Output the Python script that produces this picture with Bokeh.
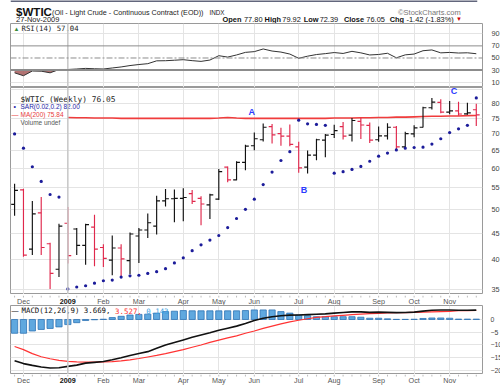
import math
import numpy as np
from bokeh.plotting import figure
from bokeh.layouts import column
from bokeh.models import (Range1d, FixedTicker, Span, Grid,
                          NumeralTickFormatter, ColumnDataSource)
from bokeh.embed import file_html
from bokeh.resources import INLINE
from bokeh.core.properties import value

# ---------------- data (weekly, week of 24-Nov-2008 ... week of 23-Nov-2009) -------------
opens = [51.1, 54.5, 41.9, 49.2, 42.9, 38.3, 47.0, 45.8, 42.6, 46.2,
         42.2, 39.9, 42.1, 39.8, 44.4, 45.6, 46.4, 51.9, 52.4, 52.5,
         53.6, 52.5, 51.0, 52.3, 60.3, 57.0, 61.6, 66.3, 68.1, 72.2,
         70.0, 69.2, 66.0, 60.3, 63.6, 68.0, 69.7, 72.2, 69.5, 73.9,
         72.6, 68.1, 69.3, 72.0, 66.0, 69.9, 72.0, 78.5, 80.4, 77.0,
         77.4, 76.4, 77.8]
highs = [56.0, 54.8, 51.9, 52.8, 43.1, 46.9, 50.5, 46.0, 46.9, 48.8,
         42.8, 44.5, 42.8, 45.1, 46.0, 49.1, 53.1, 54.7, 54.6, 54.9,
         54.5, 53.0, 53.6, 59.8, 60.5, 61.9, 66.6, 70.3, 73.2, 73.0,
         71.8, 72.9, 67.5, 64.9, 68.4, 69.9, 72.8, 73.7, 75.0, 75.0,
         73.5, 72.2, 73.3, 72.4, 70.6, 72.6, 78.9, 82.0, 81.5, 80.9,
         80.6, 80.3, 79.92]
lows = [48.6, 40.5, 40.8, 40.8, 35.1, 37.0, 39.3, 40.8, 39.1, 38.8,
        38.7, 37.3, 37.0, 37.5, 39.4, 44.0, 44.7, 50.6, 47.2, 47.4,
        51.2, 46.6, 47.9, 52.1, 56.4, 56.9, 59.5, 65.0, 67.6, 67.0,
        66.3, 66.2, 58.8, 58.6, 62.2, 63.0, 68.6, 68.2, 67.6, 68.3,
        67.1, 67.5, 68.2, 65.3, 65.6, 68.9, 71.9, 77.9, 76.6, 76.3,
        75.8, 76.1, 72.39]
closes = [54.4, 40.8, 49.0, 42.2, 37.6, 46.4, 40.7, 42.6, 46.7, 41.9,
          40.2, 42.1, 40.1, 44.8, 45.6, 47.1, 51.9, 52.4, 52.5, 52.7,
          51.8, 51.2, 53.3, 59.1, 57.0, 61.6, 66.2, 68.4, 72.0, 69.6,
          69.2, 66.7, 60.1, 63.6, 68.1, 69.5, 70.9, 69.2, 74.2, 72.7,
          68.0, 69.3, 72.0, 66.0, 70.0, 71.8, 78.5, 80.5, 77.0, 77.4,
          76.35, 76.72, 76.05]
sar = [69.9, 65.6, 60.4, 56.6, 53.4, 52.8, 35.1, 35.4, 35.6, 36.0,
       36.4, 36.5, 37.0, 37.2, 37.3, 37.6, 37.9, 38.4, 39.4, 40.3,
       41.6, 42.7, 43.6, 44.5, 46.1, 48.0, 50.0, 52.3, 55.8, 59.0,
       62.1, 64.6, 74.3, 73.1, 72.9, 72.6, 58.7, 59.1, 59.7, 60.5,
       61.9, 63.3, 64.2, 65.1, 65.6, 65.8, 65.9, 66.8, 68.4, 70.3,
       71.5, 72.6, 82.0]
ma_first_week = 6
ma200 = [75.2, 75.1, 75.1, 75.0, 75.0, 75.0, 74.9, 74.9, 74.9, 74.9,
         74.9, 74.9, 74.9, 74.9, 74.9, 74.9, 74.9, 75.0, 75.2, 75.0,
         74.9, 74.9, 74.9, 74.9, 74.9, 74.9, 74.9, 74.9, 74.9, 74.9,
         75.0, 75.0, 75.0, 75.1, 75.1, 75.2, 75.2, 75.3, 75.3, 75.4,
         75.5, 75.6, 75.6, 75.7, 75.7, 75.8, 75.84]
rsi = [25.5, 20.7, 28.5, 28.2, 25.5, 31.0, 31.0, 31.8, 32.8, 32.2,
       31.8, 33.5, 35.2, 37.5, 39.2, 40.6, 45.3, 45.5, 46.3, 47.2,
       45.6, 44.4, 46.6, 53.8, 51.5, 55.0, 59.3, 60.5, 64.9, 61.5,
       59.8, 56.5, 49.5, 53.0, 55.7, 57.2, 59.0, 57.5, 61.0, 58.5,
       55.0, 55.8, 57.8, 50.3, 55.2, 56.5, 62.0, 63.3, 58.5, 59.2,
       58.2, 58.6, 57.04]
macd = [-16.2, -17.3, -18.0, -18.6, -19.0, -18.9, -18.4, -17.9, -17.1, -16.8,
        -16.5, -15.8, -15.0, -14.1, -13.3, -12.6, -11.3, -10.0, -9.0, -8.0,
        -7.0, -6.1, -5.2, -4.2, -3.4, -2.6, -1.6, -0.4, 0.5, 1.1,
        1.5, 1.7, 1.75, 1.9, 2.05, 2.2, 2.5, 2.75, 3.0, 3.0,
        2.8, 2.9, 2.8, 2.7, 2.75, 2.9, 3.3, 3.6, 3.7, 3.7,
        3.6, 3.65, 3.669]
signal = [-10.6, -11.8, -13.4, -14.6, -15.4, -16.0, -16.4, -16.6, -16.7, -16.7,
          -16.6, -16.5, -16.2, -15.8, -15.3, -14.7, -14.1, -13.4, -12.6, -11.8,
          -10.9, -10.0, -9.0, -8.1, -7.2, -6.4, -5.4, -4.5, -3.5, -2.6,
          -1.7, -0.9, -0.3, 0.3, 0.85, 1.1, 1.4, 1.65, 1.9, 2.1,
          2.3, 2.4, 2.55, 2.65, 2.7, 2.8, 2.9, 3.0, 3.1, 3.2,
          3.45, 3.5, 3.527]
hist = [-5.4, -5.4, -4.5, -3.9, -3.5, -2.9, -2.0, -1.25, -0.4, -0.1,
        0.1, 0.75, 1.25, 1.75, 2.0, 2.1, 2.5, 3.1, 3.25, 3.5,
        3.4, 3.4, 3.4, 3.4, 3.4, 3.4, 3.5, 3.75, 3.75, 3.75,
        3.1, 2.5, 1.75, 1.5, 1.1, 1.1, 1.1, 1.1, 1.1, 0.9,
        0.5, 0.5, 0.25, 0.05, 0.05, 0.1, 0.4, 0.6, 0.6, 0.5,
        0.15, 0.15, 0.143]
month_idx = [1, 6, 10, 14, 19, 23, 27, 32, 36, 41, 45, 49]
month_labels = ["Dec", "2009", "Feb", "Mar", "Apr", "May", "Jun", "Jul",
                "Aug", "Sep", "Oct", "Nov"]
price_ticks = [35, 40, 45, 50, 55, 60, 65, 70, 75, 80, 85]
price_labels = ["35", "40", "45", "50", "55", "60", "65", "70", "75", "80", ""]
rsi_ticks = [10, 30, 50, 70, 90]
macd_ticks = [-20, -15, -10, -5, 0]

# ---------------- styling ----------------
FONT = "Liberation Sans"
MONO = "DejaVu Sans Mono"
W = 500
FW = 472
LEFT = 10
RIGHT = W - LEFT - FW
GRID = "#e4e4e4"
OUTLINE = "#9a9a9a"
BLACK = "#111111"
RED = "#e0284c"

n = len(closes)
idx = np.arange(n)
bar_colors = [BLACK] + [RED if closes[i] < closes[i - 1] else BLACK for i in range(1, n)]
xr = Range1d(-0.46, 52.7)


def fx(px):
    """frame pixel offset from the left edge -> x data value"""
    return xr.start + px * (xr.end - xr.start) / FW


def fy(rng, h, py, log=False):
    """frame pixel offset from the top edge -> y data value"""
    if log:
        a, b = math.log(rng.start), math.log(rng.end)
        return math.exp(b - py * (b - a) / h)
    return rng.end - py * (rng.end - rng.start) / h


def txt(fig, x, y, text, size, color="#222222", bold=False, font=FONT,
        align="left", baseline="alphabetic"):
    fig.text(x=[x], y=[y], text=[text], text_font=value(font),
             text_font_size=f"{size}px", text_color=color,
             text_font_style="bold" if bold else "normal",
             text_align=align, text_baseline=baseline)


def panel(frame_h, yr, y_type="linear"):
    f = figure(frame_width=FW, frame_height=frame_h, x_range=xr, y_range=yr,
               y_axis_type=y_type, y_axis_location="right", x_axis_location=None,
               toolbar_location=None, output_backend="svg",
               min_border=0, min_border_left=LEFT, min_border_right=RIGHT,
               background_fill_color="white", border_fill_color="white",
               outline_line_color=OUTLINE)
    f.xgrid.visible = False
    f.ygrid.visible = False
    f.add_layout(Grid(dimension=0, ticker=FixedTicker(ticks=month_idx),
                      grid_line_color=GRID))
    f.add_layout(Span(location=6, dimension="height", line_color="#c8c8c8",
                      line_width=1.5))
    ax = f.yaxis[0]
    ax.major_tick_line_color = None
    ax.minor_tick_line_color = None
    ax.axis_line_color = None
    ax.major_label_standoff = 3
    ax.major_label_text_font = FONT
    ax.major_label_text_font_size = "7.3px"
    ax.major_label_text_color = "#444444"
    return f


def month_strip(height):
    s = figure(frame_width=FW, frame_height=height, x_range=xr,
               y_range=Range1d(height, 0),
               x_axis_location=None, y_axis_location=None,
               toolbar_location=None, output_backend="svg",
               min_border=0, min_border_left=LEFT, min_border_right=RIGHT,
               outline_line_color=None, background_fill_color="white",
               border_fill_color="white")
    s.xgrid.visible = False
    s.ygrid.visible = False
    s.segment(x0=idx, y0=np.zeros(n), x1=idx, y1=np.full(n, 2.0),
              line_color="#bbbbbb", line_width=1)
    norm = [(m, t) for m, t in zip(month_idx, month_labels) if t != "2009"]
    bold = [(m, t) for m, t in zip(month_idx, month_labels) if t == "2009"]
    ty = [6.2]
    s.text(x=[m for m, _ in norm], y=ty * len(norm),
           text=[t for _, t in norm], text_font=value(FONT),
           text_font_size="7.2px", text_color="#555555",
           text_align="center", text_baseline="middle")
    s.text(x=[m for m, _ in bold], y=ty * len(bold),
           text=[t for _, t in bold], text_font=value(FONT),
           text_font_size="7.2px", text_font_style="bold", text_color="#111111",
           text_align="center", text_baseline="middle")
    return s


# ---------------- header ----------------
HH = 23
hdr = figure(width=W, height=HH, x_range=Range1d(0, W), y_range=Range1d(HH, 0),
             x_axis_location=None, y_axis_location=None, toolbar_location=None,
             output_backend="svg", min_border=0, outline_line_color=None)
hdr.xgrid.visible = False
hdr.ygrid.visible = False
hdr.add_layout(Span(location=0.6, dimension="width", line_color="#2e3350", line_width=1.5))
txt(hdr, 6, 11.5, "$WTIC", 11.5, color="#111111", bold=True)
txt(hdr, 44.5, 11.5, "(Oil - Light Crude - Continuous Contract (EOD))", 7.2, color="#222222")
txt(hdr, 213, 11.5, "INDX", 6.3, color="#222222")
txt(hdr, 482, 12.0, "\u00a9StockCharts.com", 7.5, color="#777777", align="right")
txt(hdr, 6, 19.2, "27-Nov-2009", 7.5, color="#222222")
hitems = [(227, "Open", True), (250, "77.80", False), (272, "High", True),
          (291, "79.92", False), (314, "Low", True), (331, "72.39", False),
          (357, "Close", True), (381, "76.05", False), (406, "Chg", True),
          (424, "-1.42 (-1.83%)", False)]
for hx, ht, hb in hitems:
    txt(hdr, hx, 19.2, ht, 7.4, color="#111111", bold=hb)
txt(hdr, 477, 18.8, "\u25bc", 6, color="#cc0000")

# ---------------- RSI panel ----------------
RH = 64
rsi_rng = Range1d(1.24, 107.0)
rsi_fig = panel(RH, rsi_rng)
rsi_fig.yaxis[0].ticker = FixedTicker(ticks=rsi_ticks)
rsi_fig.add_layout(Grid(dimension=1, ticker=FixedTicker(ticks=[10, 90]), grid_line_color=GRID))
rsi_fig.add_layout(Span(location=70, dimension="width", line_color="#8c8c8c", line_width=1))
rsi_fig.add_layout(Span(location=30, dimension="width", line_color="#8c8c8c", line_width=2))
rsi_fig.add_layout(Span(location=50, dimension="width", line_color="#8c8c8c", line_width=1,
                        line_dash="6 2 2 2"))
r_arr = np.array(rsi)
rsi_fig.varea(x=idx[:7], y1=np.minimum(r_arr[:7], 30), y2=30,
              fill_color="#a55a5a", fill_alpha=0.85)
rsi_fig.line(idx, r_arr, line_color="#333333", line_width=1)
txt(rsi_fig, fx(3), fy(rsi_rng, RH, 5.3), "\u25b2", 6, color="#3a8a3a", baseline="middle")
txt(rsi_fig, fx(11), fy(rsi_rng, RH, 5.3), "RSI(14) 57.04", 7.3, color="#222222",
    font=MONO, baseline="middle")

# ---------------- price panel ----------------
MH = 207
price_rng = Range1d(34.24, 85.9)
main = panel(MH, price_rng, y_type="log")
ya = main.yaxis[0]
ya.ticker = FixedTicker(ticks=price_ticks)
ya.formatter = NumeralTickFormatter(format="0")
ya.major_label_overrides = {t: s for t, s in zip(price_ticks, price_labels)}
main.add_layout(Grid(dimension=1, ticker=FixedTicker(ticks=price_ticks), grid_line_color=GRID))

src = ColumnDataSource(dict(x=idx, xl=idx - 0.38, xr=idx + 0.38, o=opens, h=highs,
                            l=lows, c=closes, col=bar_colors))
main.line(idx[ma_first_week:], ma200, line_color="#f03c3c", line_width=1.6)
main.segment(x0="x", y0="l", x1="x", y1="h", line_color="col", line_width=1.15, source=src)
main.segment(x0="xl", y0="o", x1="x", y1="o", line_color="col", line_width=1.15, source=src)
main.segment(x0="x", y0="c", x1="xr", y1="c", line_color="col", line_width=1.15, source=src)
main.scatter(idx, sar, size=3.2, marker="circle", fill_color="#1c1c9a", line_color=None)

for tx, px, tt in [(26.7, 77.2, "A"), (32.6, 54.4, "B"), (49.5, 84.6, "C")]:
    txt(main, tx, px, tt, 9, color="#2b3bff", bold=True, align="center", baseline="middle")


def my(py):
    return fy(price_rng, MH, py, log=True)


txt(main, fx(10), my(11.5), "$WTIC (Weekly) 76.05", 7.9, color="#222222", font=MONO,
    baseline="middle")
txt(main, fx(3), my(19.2), "\u2022", 7, color="#2626a6", baseline="middle")
txt(main, fx(10), my(19.2), "SAR(0.02,0.2) 82.00", 6.5, color="#2626a6", baseline="middle")
txt(main, fx(1), my(27.4), "\u2014", 7, color="#e83c3c", baseline="middle")
txt(main, fx(10), my(27.4), "MA(200) 75.84", 6.5, color="#e83c3c", baseline="middle")
txt(main, fx(10), my(34.8), "Volume undef", 6.5, color="#555555", baseline="middle")

strip1 = month_strip(11)

# ---------------- MACD panel ----------------
DH = 69
macd_rng = Range1d(-21.57, 5.49)
mfig = panel(DH, macd_rng)
max_ = mfig.yaxis[0]
max_.ticker = FixedTicker(ticks=macd_ticks)
max_.major_label_standoff = 2
max_.major_label_text_font_size = "6.9px"
mfig.add_layout(Grid(dimension=1, ticker=FixedTicker(ticks=macd_ticks), grid_line_color=GRID))
mfig.vbar(x=idx, top=hist, bottom=0, width=0.7, fill_color="#5fa8df",
          line_color="#2f74b5", line_width=0.8)
mfig.line(idx, signal, line_color="#ff3333", line_width=1.2)
mfig.line(idx, macd, line_color="#111111", line_width=1.6)
ly = fy(macd_rng, DH, 5)
txt(mfig, fx(1), ly, "\u2014", 7, color="#111111", baseline="middle")
txt(mfig, fx(11), ly, "MACD(12,26,9) 3.669,", 7.4, color="#111111", font=MONO, baseline="middle")
txt(mfig, fx(104.6), ly, "3.527,", 7.4, color="#ff3333", font=MONO, baseline="middle")
txt(mfig, fx(135.8), ly, "0.143", 7.4, color="#3aa0e0", font=MONO, baseline="middle")

strip2 = month_strip(13)

p = column(hdr, rsi_fig, main, strip1, mfig, strip2, spacing=0)
open("out.html", "w").write(file_html(p, INLINE))
